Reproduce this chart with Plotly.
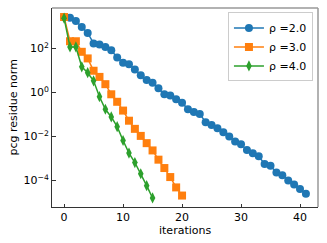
import plotly.graph_objects as go

iters_blue = list(range(42))
log_blue = [3.43, 3.40, 3.25, 2.98, 2.71, 2.23, 2.18, 2.07, 1.92, 1.59,
            1.35, 1.29, 1.05, 0.79, 0.57, 0.44, 0.19, -0.08, -0.14, -0.31,
            -0.46, -0.76, -0.88, -0.97, -1.35, -1.47, -1.62, -1.80, -2.00, -2.23,
            -2.35, -2.61, -2.76, -2.90, -3.25, -3.33, -3.63, -3.76, -4.00, -4.18,
            -4.38, -4.60]
iters_orange = list(range(21))
log_orange = [3.43, 2.33, 2.33, 1.85, 1.55, 0.99, 0.71, 0.38, -0.08, -0.42,
              -0.82, -1.28, -1.65, -1.97, -2.30, -2.63, -3.05, -3.43, -3.84, -4.31,
              -4.68]
iters_green = list(range(16))
log_green = [3.38, 2.07, 2.07, 1.17, 0.90, 0.53, -0.19, -0.76, -1.11, -1.55,
             -2.18, -2.75, -3.18, -3.69, -4.23, -4.79]

names = ["ρ =2.0", "ρ =3.0", "ρ =4.0"]
colors = ["#1f77b4", "#ff7f0e", "#2ca02c"]
ytick_vals = [1e-4, 1e-2, 1e0, 1e2]
ytick_text = ["10<sup>−4</sup>", "10<sup>−2</sup>", "10<sup>0</sup>", "10<sup>2</sup>"]
xtick_vals = [0, 10, 20, 30, 40]

series = [
    (iters_blue, log_blue, "circle", 8),
    (iters_orange, log_orange, "square", 8),
    (iters_green, log_green, "diamond-tall", 8),
]

fig = go.Figure()
for (xs, ls, sym, sz), name, col in zip(series, names, colors):
    fig.add_trace(go.Scatter(
        x=xs, y=[10 ** v for v in ls], mode="lines+markers", name=name,
        line=dict(color=col, width=1.5),
        marker=dict(symbol=sym, size=sz, color=col, line=dict(width=0)),
    ))

fig.update_layout(
    width=327, height=243,
    margin=dict(l=52, r=9, t=8, b=36),
    paper_bgcolor="white", plot_bgcolor="white",
    font=dict(family="DejaVu Sans", size=11, color="black"),
    showlegend=True,
    legend=dict(x=0.981, y=0.978, xanchor="right", yanchor="top",
                bgcolor="rgba(255,255,255,0.8)", bordercolor="#cccccc", borderwidth=1,
                font=dict(size=11), tracegroupgap=0, itemwidth=30),
)
fig.update_xaxes(
    range=[-2.05, 43.05], tickvals=xtick_vals, ticks="inside", ticklen=3.5,
    tickcolor="#333", showgrid=False, zeroline=False, automargin=False,
    showline=True, linecolor="#333", linewidth=1, mirror=False,
    tickfont=dict(size=11),
)
fig.update_yaxes(
    type="log", range=[-5.2, 3.84], tickvals=ytick_vals, ticktext=ytick_text,
    ticks="inside", ticklen=3.5, tickcolor="#333", showgrid=False, zeroline=False,
    showline=True, linecolor="#333", linewidth=1, mirror=False, automargin=False,
    tickfont=dict(size=11),
)
fig.add_annotation(text="iterations", xref="paper", yref="paper", x=0.5, y=-0.075,
                   xanchor="center", yanchor="top", showarrow=False, font=dict(size=11))
fig.add_annotation(text="pcg residue norm", xref="paper", yref="paper", x=-0.143, y=0.5,
                   xanchor="center", yanchor="middle", textangle=-90, showarrow=False,
                   font=dict(size=11))
# top and right spines (lighter)
fig.add_shape(type="line", xref="paper", yref="paper", x0=0, x1=1, y0=1, y1=1,
              line=dict(color="#999999", width=1.5))
fig.add_shape(type="line", xref="paper", yref="paper", x0=1, x1=1, y0=0, y1=1,
              line=dict(color="#999999", width=1.5))

fig.write_html("out.html", config={"displayModeBar": False},
               post_script="document.body.style.margin='0';document.body.style.overflow='hidden';")
